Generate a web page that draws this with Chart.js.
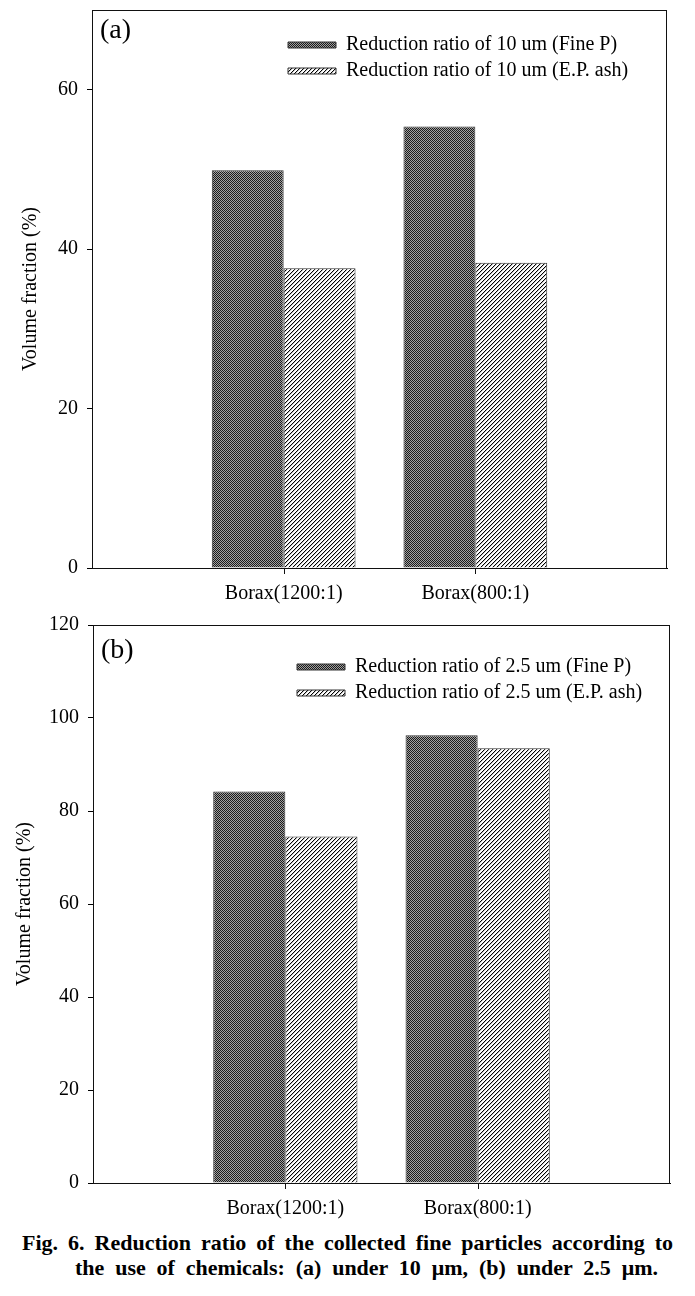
<!DOCTYPE html>
<html>
<head>
<meta charset="utf-8">
<script src="https://cdn.jsdelivr.net/npm/chart.js@4.4.1/dist/chart.umd.min.js"></script>
<style>
body{margin:0;background:#fff;width:695px;height:1296px;position:relative;overflow:hidden;font-family:"Liberation Serif",serif}
#wa{position:absolute;left:0;top:0;width:695px;height:610px}
#wb{position:absolute;left:0;top:610px;width:695px;height:615px}
.cap{position:absolute;font-weight:bold;font-size:22px;line-height:25px;color:#000}
#cap1{left:22px;top:1230px;width:651px;text-align:justify;text-align-last:justify;white-space:nowrap}
#cap2{left:75px;top:1255px;width:583px;text-align:justify;text-align-last:justify;white-space:nowrap}
</style>
</head>
<body>
<div id="wa"><canvas id="chartA"></canvas></div>
<div id="wb"><canvas id="chartB"></canvas></div>
<div class="cap" id="cap1">Fig. 6. Reduction ratio of the collected fine particles according to</div>
<div class="cap" id="cap2">the use of chemicals: (a) under 10 &mu;m, (b) under 2.5 &mu;m.</div>
<script>
// data
const categories = ['Borax(1200:1)', 'Borax(800:1)'];
const fineP10 = [49.9, 55.4];
const epAsh10 = [37.6, 38.3];
const fineP25 = [84.2, 96.3];
const epAsh25 = [74.5, 93.5];
const yMaxA = 70, yMaxB = 120, yStep = 20;

const serif = 'Liberation Serif';

// fill patterns of the two series
function makePattern(size, draw){
  const c = document.createElement('canvas');
  c.width = size; c.height = size;
  const g = c.getContext('2d');
  draw(g);
  return g.createPattern(c, 'repeat');
}
const checkFill = makePattern(2, g => {
  g.fillStyle = '#a0a0a0'; g.fillRect(0,0,2,2);
  g.fillStyle = '#1a1a1a'; g.fillRect(0,0,1,1); g.fillRect(1,1,1,1);
});
const hatchFill = makePattern(4, g => {
  g.fillStyle = '#fff'; g.fillRect(0,0,4,4);
  g.fillStyle = '#000';
  for (let i=0;i<4;i++) g.fillRect(i,3-i,1,1);
  g.fillStyle = '#c4c4c4';
  for (let i=0;i<4;i++) g.fillRect(i,(4-i)%4,1,1);
});

// frame around plot, x tick marks, panel letter, legend moved inside the plot
function framePlugin(letter, letterDy, legX, legY){
  return {
    id: 'frame' + letter,
    afterLayout(chart){
      const lg = chart.legend;
      if (!lg) return;
      lg.left = legX; lg.top = legY;
      lg.right = legX + lg.width; lg.bottom = legY + 200;
    },
    afterDraw(chart){
      const a = chart.chartArea, ctx = chart.ctx, xs = chart.scales.x;
      ctx.save();
      ctx.strokeStyle = '#111';
      ctx.lineWidth = 1;
      ctx.strokeRect(Math.round(a.left)+0.5, Math.round(a.top)+0.5, Math.round(a.right-a.left)-1, Math.round(a.bottom-a.top));
      ctx.beginPath();
      for (let i = 1; i <= categories.length; i++) {
        const px = Math.round(xs.getPixelForTick(i)) + 0.5;
        ctx.moveTo(px, a.bottom);
        ctx.lineTo(px, a.bottom + 6);
      }
      ctx.stroke();
      ctx.fillStyle = '#000';
      ctx.font = '28px "' + serif + '"';
      ctx.textBaseline = 'middle';
      ctx.fillText(letter, a.left + 8, a.top + letterDy);
      ctx.restore();
    }
  };
}

function buildChart(id, names, s1, s2, yMax, pad, yWidth, titlePad, plugin){
  const labels = ['', ...categories, ''];
  return new Chart(document.getElementById(id), {
    type: 'bar',
    data: {
      labels: labels,
      datasets: [
        {label: names[0], data: [null, ...s1, null], backgroundColor: checkFill, borderColor: '#333', borderWidth: 1},
        {label: names[1], data: [null, ...s2, null], backgroundColor: hatchFill, borderColor: '#333', borderWidth: 1}
      ]
    },
    options: {
      responsive: true,
      maintainAspectRatio: false,
      animation: false,
      categoryPercentage: 0.75,
      barPercentage: 1.0,
      layout: {padding: pad},
      plugins: {
        tooltip: {enabled: false},
        legend: {
          position: 'chartArea',
          align: 'start',
          labels: {boxWidth: 48, boxHeight: 6, padding: 6, color: '#000', font: {family: serif, size: 20}}
        }
      },
      scales: {
        x: {
          type: 'category',
          offset: false,
          grid: {drawOnChartArea: false, drawTicks: true, tickLength: 6, tickColor: 'rgba(0,0,0,0)'},
          border: {color: '#000', width: 1},
          ticks: {color: '#000', padding: 8, maxRotation: 0, autoSkip: false, font: {family: serif, size: 20}},
          afterFit: s => { s.height = 42; s.paddingLeft = 0; s.paddingRight = 0; }
        },
        y: {
          min: 0,
          max: yMax,
          grid: {drawOnChartArea: false, tickLength: 5, tickColor: '#000'},
          border: {color: '#000', width: 1},
          ticks: {stepSize: yStep, includeBounds: false, color: '#000', padding: 9, font: {family: serif, size: 20}},
          title: {display: true, text: 'Volume fraction (%)', color: '#000', font: {family: serif, size: 20}, padding: {top: titlePad, bottom: 0}},
          afterFit: s => { s.width = yWidth; s.paddingTop = 0; s.paddingBottom = 0; }
        }
      }
    },
    plugins: [plugin]
  });
}

buildChart('chartA',
  ['Reduction ratio of 10 um (Fine P)', 'Reduction ratio of 10 um (E.P. ash)'],
  fineP10, epAsh10, yMaxA,
  {top: 10, right: 28, left: 0, bottom: 0}, 92, 19,
  framePlugin('(a)', 21, 282, 29));

buildChart('chartB',
  ['Reduction ratio of 2.5 um (Fine P)', 'Reduction ratio of 2.5 um (E.P. ash)'],
  fineP25, epAsh25, yMaxB,
  {top: 15, right: 25, left: 0, bottom: 0}, 93, 13,
  framePlugin('(b)', 26, 291, 41));
</script>
</body>
</html>
